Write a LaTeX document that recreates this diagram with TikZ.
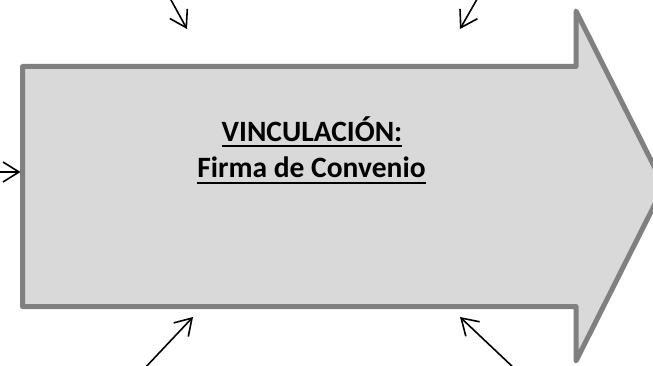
\documentclass[tikz,border=0pt]{standalone}
\usepackage{fontspec}
\setmainfont{Carlito}
\usetikzlibrary{arrows.meta}
\newcommand\myul[1]{\setbox0=\hbox{#1}\leavevmode\rlap{\rule[-5.8pt]{\wd0}{2pt}}\box0}
\definecolor{bodyfill}{HTML}{D9D9D9}
\definecolor{bodyline}{HTML}{808080}
\tikzset{
  bigarrow/.style={draw=bodyline, fill=bodyfill, line width=5pt, line join=round},
  label/.style={font=\fontsize{29.5}{34}\selectfont\bfseries, text=black, inner sep=0pt, anchor=base},
  pointer/.style={draw=black, line width=1.6pt, -{Straight Barb[length=16pt,width=20pt,line width=1.6pt]}}
}
\begin{document}
\begin{tikzpicture}[x=1pt,y=-1pt]
\useasboundingbox (0,0) rectangle (653,366);
\clip (0,0) rectangle (653,366);
\fill[white] (0,0) rectangle (653,366);
\draw[bigarrow] (22.5,66.5) -- (576,66.5) -- (576,11) -- (664,186) -- (576,361) -- (576,306.5) -- (22.5,306.5) -- cycle;
\node[label] (t1) at (312,141.7) {\myul{VINCULACIÓN:}};
\node[label] (t2) at (311.5,178) {\myul{Firma de Convenio}};
% arrow ends
\coordinate (tlS) at (160,-20);
\coordinate (tlE) at (187,29);
\coordinate (trS) at (488,-20);
\coordinate (trE) at (460,29);
\coordinate (lS) at (-20,172);
\coordinate (lE) at (20.5,172);
\coordinate (blS) at (127,387);
\coordinate (blE) at (193,317);
\coordinate (brS) at (534,387);
\coordinate (brE) at (460,317);
\draw[pointer] (tlS) -- (tlE);
\draw[pointer] (trS) -- (trE);
\draw[pointer] (lS) -- (lE);
\draw[pointer] (blS) -- (blE);
\draw[pointer] (brS) -- (brE);
\end{tikzpicture}
\end{document}
